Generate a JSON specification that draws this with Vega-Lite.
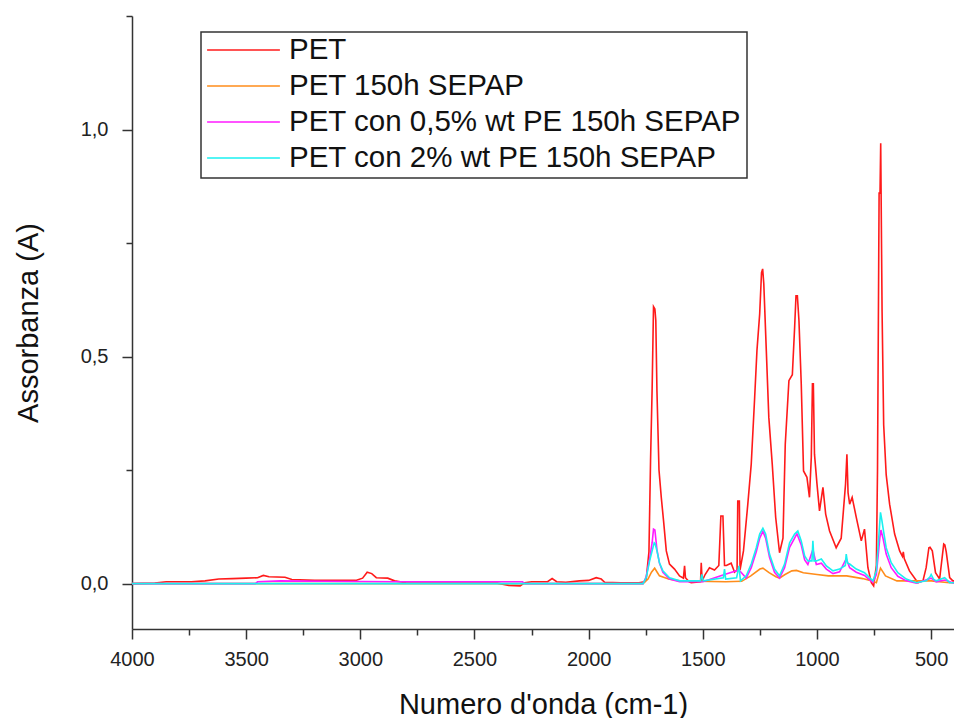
{
  "$schema": "https://vega.github.io/schema/vega-lite/v6.json",
  "width": 822,
  "height": 613,
  "autosize": "none",
  "padding": {"left": 132, "top": 16, "right": 0, "bottom": 89},
  "background": "white",
  "config": {
    "view": {"stroke": null},
    "font": "Liberation Sans",
    "axis": {
      "domainColor": "#333",
      "domainWidth": 1.5,
      "tickColor": "#333",
      "tickWidth": 1.5,
      "labelFont": "Liberation Sans",
      "labelFontSize": 20,
      "labelColor": "#222",
      "titleFont": "Liberation Sans",
      "titleFontSize": 29,
      "titleFontWeight": "normal",
      "titleColor": "#111",
      "grid": false,
      "labelFlush": false,
      "labelOverlap": false
    },
    "legend": {
      "orient": "none",
      "legendX": 69,
      "legendY": 16,
      "strokeColor": "#333",
      "strokeWidth": 1.5,
      "fillColor": "white",
      "padding": 5,
      "symbolType": "stroke",
      "symbolSize": 5300,
      "symbolStrokeWidth": 1.5,
      "clipHeight": 26,
      "labelFont": "Liberation Sans",
      "labelFontSize": 29.5,
      "labelColor": "#111",
      "labelLimit": 0,
      "labelOffset": 8,
      "rowPadding": 6
    }
  },
  "data": {
    "values": [
      {"s": "PET", "x": 4000, "y": 0.0},
      {"s": "PET", "x": 3900, "y": 0.001},
      {"s": "PET", "x": 3850, "y": 0.004},
      {"s": "PET", "x": 3740, "y": 0.004},
      {"s": "PET", "x": 3680, "y": 0.006},
      {"s": "PET", "x": 3620, "y": 0.01},
      {"s": "PET", "x": 3560, "y": 0.011},
      {"s": "PET", "x": 3500, "y": 0.012},
      {"s": "PET", "x": 3450, "y": 0.013},
      {"s": "PET", "x": 3425, "y": 0.018},
      {"s": "PET", "x": 3400, "y": 0.015},
      {"s": "PET", "x": 3330, "y": 0.014},
      {"s": "PET", "x": 3300, "y": 0.009},
      {"s": "PET", "x": 3200, "y": 0.007},
      {"s": "PET", "x": 3100, "y": 0.007},
      {"s": "PET", "x": 3020, "y": 0.007},
      {"s": "PET", "x": 2990, "y": 0.012},
      {"s": "PET", "x": 2970, "y": 0.025},
      {"s": "PET", "x": 2950, "y": 0.022},
      {"s": "PET", "x": 2930, "y": 0.013},
      {"s": "PET", "x": 2880, "y": 0.012},
      {"s": "PET", "x": 2850, "y": 0.006},
      {"s": "PET", "x": 2800, "y": 0.002},
      {"s": "PET", "x": 2600, "y": 0.001},
      {"s": "PET", "x": 2400, "y": 0.001},
      {"s": "PET", "x": 2350, "y": -0.004},
      {"s": "PET", "x": 2300, "y": -0.005},
      {"s": "PET", "x": 2280, "y": 0.002},
      {"s": "PET", "x": 2250, "y": 0.004},
      {"s": "PET", "x": 2180, "y": 0.004},
      {"s": "PET", "x": 2160, "y": 0.011},
      {"s": "PET", "x": 2140, "y": 0.004},
      {"s": "PET", "x": 2100, "y": 0.003},
      {"s": "PET", "x": 2040, "y": 0.006},
      {"s": "PET", "x": 2000, "y": 0.007},
      {"s": "PET", "x": 1967, "y": 0.013},
      {"s": "PET", "x": 1945, "y": 0.01},
      {"s": "PET", "x": 1930, "y": 0.003},
      {"s": "PET", "x": 1860, "y": 0.002},
      {"s": "PET", "x": 1780, "y": 0.002},
      {"s": "PET", "x": 1755, "y": 0.004},
      {"s": "PET", "x": 1748, "y": 0.01},
      {"s": "PET", "x": 1736, "y": 0.07},
      {"s": "PET", "x": 1729, "y": 0.27},
      {"s": "PET", "x": 1722, "y": 0.43},
      {"s": "PET", "x": 1716, "y": 0.61},
      {"s": "PET", "x": 1710, "y": 0.605},
      {"s": "PET", "x": 1706, "y": 0.58},
      {"s": "PET", "x": 1701, "y": 0.425},
      {"s": "PET", "x": 1692, "y": 0.25},
      {"s": "PET", "x": 1682, "y": 0.19},
      {"s": "PET", "x": 1672, "y": 0.138},
      {"s": "PET", "x": 1660, "y": 0.072},
      {"s": "PET", "x": 1646, "y": 0.043},
      {"s": "PET", "x": 1624, "y": 0.032},
      {"s": "PET", "x": 1602, "y": 0.017},
      {"s": "PET", "x": 1585, "y": 0.012},
      {"s": "PET", "x": 1580, "y": 0.039},
      {"s": "PET", "x": 1576, "y": 0.013},
      {"s": "PET", "x": 1560, "y": 0.004},
      {"s": "PET", "x": 1551, "y": 0.002},
      {"s": "PET", "x": 1510, "y": 0.004},
      {"s": "PET", "x": 1507, "y": 0.046},
      {"s": "PET", "x": 1503, "y": 0.006},
      {"s": "PET", "x": 1490, "y": 0.02},
      {"s": "PET", "x": 1471, "y": 0.035},
      {"s": "PET", "x": 1449, "y": 0.03},
      {"s": "PET", "x": 1430, "y": 0.04},
      {"s": "PET", "x": 1421, "y": 0.149},
      {"s": "PET", "x": 1412, "y": 0.149},
      {"s": "PET", "x": 1405, "y": 0.04},
      {"s": "PET", "x": 1397, "y": 0.04},
      {"s": "PET", "x": 1376, "y": 0.045},
      {"s": "PET", "x": 1361, "y": 0.025},
      {"s": "PET", "x": 1350, "y": 0.03},
      {"s": "PET", "x": 1347, "y": 0.182},
      {"s": "PET", "x": 1340, "y": 0.182},
      {"s": "PET", "x": 1337, "y": 0.03},
      {"s": "PET", "x": 1322, "y": 0.072},
      {"s": "PET", "x": 1303, "y": 0.175},
      {"s": "PET", "x": 1288, "y": 0.263},
      {"s": "PET", "x": 1273, "y": 0.41},
      {"s": "PET", "x": 1263, "y": 0.513},
      {"s": "PET", "x": 1251, "y": 0.594},
      {"s": "PET", "x": 1243, "y": 0.685},
      {"s": "PET", "x": 1238, "y": 0.693},
      {"s": "PET", "x": 1233, "y": 0.66},
      {"s": "PET", "x": 1222, "y": 0.513},
      {"s": "PET", "x": 1211, "y": 0.366},
      {"s": "PET", "x": 1196, "y": 0.263},
      {"s": "PET", "x": 1181, "y": 0.146},
      {"s": "PET", "x": 1164, "y": 0.068},
      {"s": "PET", "x": 1149, "y": 0.1},
      {"s": "PET", "x": 1139, "y": 0.307},
      {"s": "PET", "x": 1123, "y": 0.447},
      {"s": "PET", "x": 1108, "y": 0.46},
      {"s": "PET", "x": 1098, "y": 0.564},
      {"s": "PET", "x": 1092, "y": 0.634},
      {"s": "PET", "x": 1086, "y": 0.634},
      {"s": "PET", "x": 1079, "y": 0.579},
      {"s": "PET", "x": 1069, "y": 0.44},
      {"s": "PET", "x": 1059, "y": 0.248},
      {"s": "PET", "x": 1044, "y": 0.234},
      {"s": "PET", "x": 1033, "y": 0.19},
      {"s": "PET", "x": 1025, "y": 0.278},
      {"s": "PET", "x": 1020, "y": 0.44},
      {"s": "PET", "x": 1016, "y": 0.44},
      {"s": "PET", "x": 1011, "y": 0.285},
      {"s": "PET", "x": 1000, "y": 0.219},
      {"s": "PET", "x": 989, "y": 0.16},
      {"s": "PET", "x": 974, "y": 0.212},
      {"s": "PET", "x": 962, "y": 0.153},
      {"s": "PET", "x": 945, "y": 0.116},
      {"s": "PET", "x": 916, "y": 0.079},
      {"s": "PET", "x": 894, "y": 0.1},
      {"s": "PET", "x": 875, "y": 0.219},
      {"s": "PET", "x": 869, "y": 0.285},
      {"s": "PET", "x": 864, "y": 0.2},
      {"s": "PET", "x": 857, "y": 0.175},
      {"s": "PET", "x": 846, "y": 0.19},
      {"s": "PET", "x": 828, "y": 0.146},
      {"s": "PET", "x": 806, "y": 0.094},
      {"s": "PET", "x": 792, "y": 0.12},
      {"s": "PET", "x": 777, "y": 0.035},
      {"s": "PET", "x": 762, "y": 0.002},
      {"s": "PET", "x": 752, "y": -0.005},
      {"s": "PET", "x": 740, "y": 0.04},
      {"s": "PET", "x": 735, "y": 0.25},
      {"s": "PET", "x": 728, "y": 0.86},
      {"s": "PET", "x": 724, "y": 0.86},
      {"s": "PET", "x": 721, "y": 0.97},
      {"s": "PET", "x": 715, "y": 0.6},
      {"s": "PET", "x": 708, "y": 0.35},
      {"s": "PET", "x": 697, "y": 0.24},
      {"s": "PET", "x": 682, "y": 0.175},
      {"s": "PET", "x": 660, "y": 0.109},
      {"s": "PET", "x": 638, "y": 0.072},
      {"s": "PET", "x": 626, "y": 0.06},
      {"s": "PET", "x": 622, "y": 0.07},
      {"s": "PET", "x": 618, "y": 0.055},
      {"s": "PET", "x": 595, "y": 0.028},
      {"s": "PET", "x": 558, "y": 0.002},
      {"s": "PET", "x": 536, "y": 0.006},
      {"s": "PET", "x": 522, "y": 0.035},
      {"s": "PET", "x": 510, "y": 0.079},
      {"s": "PET", "x": 505, "y": 0.08},
      {"s": "PET", "x": 495, "y": 0.072},
      {"s": "PET", "x": 481, "y": 0.024},
      {"s": "PET", "x": 463, "y": 0.01},
      {"s": "PET", "x": 445, "y": 0.087},
      {"s": "PET", "x": 440, "y": 0.085},
      {"s": "PET", "x": 434, "y": 0.07},
      {"s": "PET", "x": 419, "y": 0.013},
      {"s": "PET", "x": 405, "y": 0.006},
      {"s": "PET", "x": 400, "y": 0.006},

      {"s": "PET 150h SEPAP", "x": 4000, "y": 0.0},
      {"s": "PET 150h SEPAP", "x": 1762, "y": 0.0},
      {"s": "PET 150h SEPAP", "x": 1740, "y": 0.01},
      {"s": "PET 150h SEPAP", "x": 1725, "y": 0.025},
      {"s": "PET 150h SEPAP", "x": 1711, "y": 0.034},
      {"s": "PET 150h SEPAP", "x": 1700, "y": 0.025},
      {"s": "PET 150h SEPAP", "x": 1690, "y": 0.017},
      {"s": "PET 150h SEPAP", "x": 1650, "y": 0.01},
      {"s": "PET 150h SEPAP", "x": 1600, "y": 0.006},
      {"s": "PET 150h SEPAP", "x": 1400, "y": 0.004},
      {"s": "PET 150h SEPAP", "x": 1330, "y": 0.005},
      {"s": "PET 150h SEPAP", "x": 1290, "y": 0.017},
      {"s": "PET 150h SEPAP", "x": 1250, "y": 0.032},
      {"s": "PET 150h SEPAP", "x": 1237, "y": 0.034},
      {"s": "PET 150h SEPAP", "x": 1210, "y": 0.024},
      {"s": "PET 150h SEPAP", "x": 1180, "y": 0.015},
      {"s": "PET 150h SEPAP", "x": 1164, "y": 0.012},
      {"s": "PET 150h SEPAP", "x": 1140, "y": 0.02},
      {"s": "PET 150h SEPAP", "x": 1110, "y": 0.028},
      {"s": "PET 150h SEPAP", "x": 1090, "y": 0.029},
      {"s": "PET 150h SEPAP", "x": 1060, "y": 0.024},
      {"s": "PET 150h SEPAP", "x": 1000, "y": 0.02},
      {"s": "PET 150h SEPAP", "x": 950, "y": 0.017},
      {"s": "PET 150h SEPAP", "x": 870, "y": 0.017},
      {"s": "PET 150h SEPAP", "x": 800, "y": 0.011},
      {"s": "PET 150h SEPAP", "x": 760, "y": 0.006},
      {"s": "PET 150h SEPAP", "x": 740, "y": 0.002},
      {"s": "PET 150h SEPAP", "x": 730, "y": 0.02},
      {"s": "PET 150h SEPAP", "x": 722, "y": 0.034},
      {"s": "PET 150h SEPAP", "x": 700, "y": 0.017},
      {"s": "PET 150h SEPAP", "x": 650, "y": 0.006},
      {"s": "PET 150h SEPAP", "x": 500, "y": 0.006},
      {"s": "PET 150h SEPAP", "x": 420, "y": 0.002},
      {"s": "PET 150h SEPAP", "x": 400, "y": 0.002},

      {"s": "PET con 0,5% wt PE 150h SEPAP", "x": 4000, "y": 0.0},
      {"s": "PET con 0,5% wt PE 150h SEPAP", "x": 3460, "y": 0.0},
      {"s": "PET con 0,5% wt PE 150h SEPAP", "x": 3450, "y": 0.004},
      {"s": "PET con 0,5% wt PE 150h SEPAP", "x": 3350, "y": 0.006},
      {"s": "PET con 0,5% wt PE 150h SEPAP", "x": 3160, "y": 0.005},
      {"s": "PET con 0,5% wt PE 150h SEPAP", "x": 2840, "y": 0.004},
      {"s": "PET con 0,5% wt PE 150h SEPAP", "x": 2290, "y": 0.004},
      {"s": "PET con 0,5% wt PE 150h SEPAP", "x": 2280, "y": 0.0},
      {"s": "PET con 0,5% wt PE 150h SEPAP", "x": 1762, "y": 0.0},
      {"s": "PET con 0,5% wt PE 150h SEPAP", "x": 1748, "y": 0.015},
      {"s": "PET con 0,5% wt PE 150h SEPAP", "x": 1733, "y": 0.055},
      {"s": "PET con 0,5% wt PE 150h SEPAP", "x": 1722, "y": 0.09},
      {"s": "PET con 0,5% wt PE 150h SEPAP", "x": 1716, "y": 0.12},
      {"s": "PET con 0,5% wt PE 150h SEPAP", "x": 1710, "y": 0.118},
      {"s": "PET con 0,5% wt PE 150h SEPAP", "x": 1701, "y": 0.075},
      {"s": "PET con 0,5% wt PE 150h SEPAP", "x": 1690, "y": 0.045},
      {"s": "PET con 0,5% wt PE 150h SEPAP", "x": 1675, "y": 0.025},
      {"s": "PET con 0,5% wt PE 150h SEPAP", "x": 1646, "y": 0.01},
      {"s": "PET con 0,5% wt PE 150h SEPAP", "x": 1602, "y": 0.004},
      {"s": "PET con 0,5% wt PE 150h SEPAP", "x": 1500, "y": 0.004},
      {"s": "PET con 0,5% wt PE 150h SEPAP", "x": 1405, "y": 0.02},
      {"s": "PET con 0,5% wt PE 150h SEPAP", "x": 1342, "y": 0.03},
      {"s": "PET con 0,5% wt PE 150h SEPAP", "x": 1310, "y": 0.012},
      {"s": "PET con 0,5% wt PE 150h SEPAP", "x": 1288, "y": 0.035},
      {"s": "PET con 0,5% wt PE 150h SEPAP", "x": 1266, "y": 0.07},
      {"s": "PET con 0,5% wt PE 150h SEPAP", "x": 1251, "y": 0.1},
      {"s": "PET con 0,5% wt PE 150h SEPAP", "x": 1237, "y": 0.115},
      {"s": "PET con 0,5% wt PE 150h SEPAP", "x": 1225, "y": 0.1},
      {"s": "PET con 0,5% wt PE 150h SEPAP", "x": 1208, "y": 0.058},
      {"s": "PET con 0,5% wt PE 150h SEPAP", "x": 1186, "y": 0.025},
      {"s": "PET con 0,5% wt PE 150h SEPAP", "x": 1164, "y": 0.012},
      {"s": "PET con 0,5% wt PE 150h SEPAP", "x": 1142, "y": 0.035},
      {"s": "PET con 0,5% wt PE 150h SEPAP", "x": 1120, "y": 0.08},
      {"s": "PET con 0,5% wt PE 150h SEPAP", "x": 1098, "y": 0.1},
      {"s": "PET con 0,5% wt PE 150h SEPAP", "x": 1088, "y": 0.11},
      {"s": "PET con 0,5% wt PE 150h SEPAP", "x": 1069, "y": 0.085},
      {"s": "PET con 0,5% wt PE 150h SEPAP", "x": 1054, "y": 0.052},
      {"s": "PET con 0,5% wt PE 150h SEPAP", "x": 1040, "y": 0.042},
      {"s": "PET con 0,5% wt PE 150h SEPAP", "x": 1018, "y": 0.075},
      {"s": "PET con 0,5% wt PE 150h SEPAP", "x": 1003, "y": 0.042},
      {"s": "PET con 0,5% wt PE 150h SEPAP", "x": 981, "y": 0.045},
      {"s": "PET con 0,5% wt PE 150h SEPAP", "x": 959, "y": 0.032},
      {"s": "PET con 0,5% wt PE 150h SEPAP", "x": 930, "y": 0.022},
      {"s": "PET con 0,5% wt PE 150h SEPAP", "x": 901, "y": 0.026},
      {"s": "PET con 0,5% wt PE 150h SEPAP", "x": 872, "y": 0.055},
      {"s": "PET con 0,5% wt PE 150h SEPAP", "x": 857, "y": 0.035},
      {"s": "PET con 0,5% wt PE 150h SEPAP", "x": 828, "y": 0.025},
      {"s": "PET con 0,5% wt PE 150h SEPAP", "x": 792, "y": 0.018},
      {"s": "PET con 0,5% wt PE 150h SEPAP", "x": 770, "y": 0.008},
      {"s": "PET con 0,5% wt PE 150h SEPAP", "x": 755, "y": 0.003},
      {"s": "PET con 0,5% wt PE 150h SEPAP", "x": 740, "y": 0.02},
      {"s": "PET con 0,5% wt PE 150h SEPAP", "x": 725, "y": 0.1},
      {"s": "PET con 0,5% wt PE 150h SEPAP", "x": 720, "y": 0.118},
      {"s": "PET con 0,5% wt PE 150h SEPAP", "x": 711, "y": 0.1},
      {"s": "PET con 0,5% wt PE 150h SEPAP", "x": 697, "y": 0.065},
      {"s": "PET con 0,5% wt PE 150h SEPAP", "x": 675, "y": 0.035},
      {"s": "PET con 0,5% wt PE 150h SEPAP", "x": 646, "y": 0.016},
      {"s": "PET con 0,5% wt PE 150h SEPAP", "x": 609, "y": 0.006},
      {"s": "PET con 0,5% wt PE 150h SEPAP", "x": 565, "y": 0.001},
      {"s": "PET con 0,5% wt PE 150h SEPAP", "x": 500, "y": 0.012},
      {"s": "PET con 0,5% wt PE 150h SEPAP", "x": 478, "y": 0.004},
      {"s": "PET con 0,5% wt PE 150h SEPAP", "x": 441, "y": 0.008},
      {"s": "PET con 0,5% wt PE 150h SEPAP", "x": 400, "y": 0.001},

      {"s": "PET con 2% wt PE 150h SEPAP", "x": 4000, "y": 0.0},
      {"s": "PET con 2% wt PE 150h SEPAP", "x": 1800, "y": 0.0},
      {"s": "PET con 2% wt PE 150h SEPAP", "x": 1762, "y": 0.0},
      {"s": "PET con 2% wt PE 150h SEPAP", "x": 1748, "y": 0.013},
      {"s": "PET con 2% wt PE 150h SEPAP", "x": 1733, "y": 0.05},
      {"s": "PET con 2% wt PE 150h SEPAP", "x": 1722, "y": 0.072},
      {"s": "PET con 2% wt PE 150h SEPAP", "x": 1713, "y": 0.09},
      {"s": "PET con 2% wt PE 150h SEPAP", "x": 1709, "y": 0.088},
      {"s": "PET con 2% wt PE 150h SEPAP", "x": 1701, "y": 0.072},
      {"s": "PET con 2% wt PE 150h SEPAP", "x": 1690, "y": 0.046},
      {"s": "PET con 2% wt PE 150h SEPAP", "x": 1675, "y": 0.028},
      {"s": "PET con 2% wt PE 150h SEPAP", "x": 1646, "y": 0.013},
      {"s": "PET con 2% wt PE 150h SEPAP", "x": 1602, "y": 0.006},
      {"s": "PET con 2% wt PE 150h SEPAP", "x": 1510, "y": 0.006},
      {"s": "PET con 2% wt PE 150h SEPAP", "x": 1505, "y": 0.02},
      {"s": "PET con 2% wt PE 150h SEPAP", "x": 1498, "y": 0.006},
      {"s": "PET con 2% wt PE 150h SEPAP", "x": 1410, "y": 0.013},
      {"s": "PET con 2% wt PE 150h SEPAP", "x": 1405, "y": 0.032},
      {"s": "PET con 2% wt PE 150h SEPAP", "x": 1400, "y": 0.01},
      {"s": "PET con 2% wt PE 150h SEPAP", "x": 1352, "y": 0.013},
      {"s": "PET con 2% wt PE 150h SEPAP", "x": 1342, "y": 0.039},
      {"s": "PET con 2% wt PE 150h SEPAP", "x": 1335, "y": 0.006},
      {"s": "PET con 2% wt PE 150h SEPAP", "x": 1310, "y": 0.017},
      {"s": "PET con 2% wt PE 150h SEPAP", "x": 1288, "y": 0.043},
      {"s": "PET con 2% wt PE 150h SEPAP", "x": 1266, "y": 0.079},
      {"s": "PET con 2% wt PE 150h SEPAP", "x": 1251, "y": 0.109},
      {"s": "PET con 2% wt PE 150h SEPAP", "x": 1237, "y": 0.122},
      {"s": "PET con 2% wt PE 150h SEPAP", "x": 1225, "y": 0.109},
      {"s": "PET con 2% wt PE 150h SEPAP", "x": 1208, "y": 0.065},
      {"s": "PET con 2% wt PE 150h SEPAP", "x": 1186, "y": 0.032},
      {"s": "PET con 2% wt PE 150h SEPAP", "x": 1164, "y": 0.017},
      {"s": "PET con 2% wt PE 150h SEPAP", "x": 1142, "y": 0.043},
      {"s": "PET con 2% wt PE 150h SEPAP", "x": 1120, "y": 0.09},
      {"s": "PET con 2% wt PE 150h SEPAP", "x": 1098, "y": 0.109},
      {"s": "PET con 2% wt PE 150h SEPAP", "x": 1084, "y": 0.116},
      {"s": "PET con 2% wt PE 150h SEPAP", "x": 1069, "y": 0.094},
      {"s": "PET con 2% wt PE 150h SEPAP", "x": 1054, "y": 0.061},
      {"s": "PET con 2% wt PE 150h SEPAP", "x": 1040, "y": 0.05},
      {"s": "PET con 2% wt PE 150h SEPAP", "x": 1022, "y": 0.05},
      {"s": "PET con 2% wt PE 150h SEPAP", "x": 1018, "y": 0.094},
      {"s": "PET con 2% wt PE 150h SEPAP", "x": 1013, "y": 0.05},
      {"s": "PET con 2% wt PE 150h SEPAP", "x": 1003, "y": 0.05},
      {"s": "PET con 2% wt PE 150h SEPAP", "x": 981, "y": 0.054},
      {"s": "PET con 2% wt PE 150h SEPAP", "x": 959, "y": 0.039},
      {"s": "PET con 2% wt PE 150h SEPAP", "x": 930, "y": 0.028},
      {"s": "PET con 2% wt PE 150h SEPAP", "x": 901, "y": 0.032},
      {"s": "PET con 2% wt PE 150h SEPAP", "x": 876, "y": 0.04},
      {"s": "PET con 2% wt PE 150h SEPAP", "x": 872, "y": 0.065},
      {"s": "PET con 2% wt PE 150h SEPAP", "x": 866, "y": 0.045},
      {"s": "PET con 2% wt PE 150h SEPAP", "x": 857, "y": 0.043},
      {"s": "PET con 2% wt PE 150h SEPAP", "x": 828, "y": 0.032},
      {"s": "PET con 2% wt PE 150h SEPAP", "x": 792, "y": 0.024},
      {"s": "PET con 2% wt PE 150h SEPAP", "x": 770, "y": 0.013},
      {"s": "PET con 2% wt PE 150h SEPAP", "x": 755, "y": 0.006},
      {"s": "PET con 2% wt PE 150h SEPAP", "x": 740, "y": 0.028},
      {"s": "PET con 2% wt PE 150h SEPAP", "x": 727, "y": 0.12},
      {"s": "PET con 2% wt PE 150h SEPAP", "x": 722, "y": 0.157},
      {"s": "PET con 2% wt PE 150h SEPAP", "x": 716, "y": 0.14},
      {"s": "PET con 2% wt PE 150h SEPAP", "x": 711, "y": 0.123},
      {"s": "PET con 2% wt PE 150h SEPAP", "x": 697, "y": 0.079},
      {"s": "PET con 2% wt PE 150h SEPAP", "x": 675, "y": 0.046},
      {"s": "PET con 2% wt PE 150h SEPAP", "x": 646, "y": 0.024},
      {"s": "PET con 2% wt PE 150h SEPAP", "x": 609, "y": 0.01},
      {"s": "PET con 2% wt PE 150h SEPAP", "x": 565, "y": 0.002},
      {"s": "PET con 2% wt PE 150h SEPAP", "x": 522, "y": 0.006},
      {"s": "PET con 2% wt PE 150h SEPAP", "x": 505, "y": 0.015},
      {"s": "PET con 2% wt PE 150h SEPAP", "x": 500, "y": 0.02},
      {"s": "PET con 2% wt PE 150h SEPAP", "x": 490, "y": 0.01},
      {"s": "PET con 2% wt PE 150h SEPAP", "x": 478, "y": 0.006},
      {"s": "PET con 2% wt PE 150h SEPAP", "x": 441, "y": 0.013},
      {"s": "PET con 2% wt PE 150h SEPAP", "x": 419, "y": 0.002},
      {"s": "PET con 2% wt PE 150h SEPAP", "x": 400, "y": 0.002}
    ]
  },
  "mark": {"type": "line", "strokeWidth": 1.6, "clip": true},
  "encoding": {
    "x": {
      "field": "x",
      "type": "quantitative",
      "sort": null,
      "scale": {"domain": [4000, 400], "nice": false, "zero": false},
      "axis": {
        "title": "Numero d'onda (cm-1)",
        "values": [4000, 3750, 3500, 3250, 3000, 2750, 2500, 2250, 2000, 1750, 1500, 1250, 1000, 750, 500],
        "labelExpr": "datum.value % 500 == 0 ? format(datum.value, 'd') : ''",
        "tickSize": {"condition": {"test": "datum.value % 500 != 0", "value": 6}, "value": 10},
        "labelPadding": 10,
        "titlePadding": 21
      }
    },
    "y": {
      "field": "y",
      "type": "quantitative",
      "scale": {"domain": [-0.1, 1.25], "nice": false, "zero": false},
      "axis": {
        "title": "Assorbanza (A)",
        "values": [0, 0.25, 0.5, 0.75, 1, 1.25],
        "labelExpr": "datum.value % 0.5 == 0 ? replace(format(datum.value, '.1f'), '.', ',') : ''",
        "tickSize": {"condition": {"test": "datum.value % 0.5 != 0", "value": 6}, "value": 10},
        "labelPadding": 14,
        "titlePadding": 37
      }
    },
    "color": {
      "field": "s",
      "type": "nominal",
      "sort": null,
      "scale": {
        "domain": ["PET", "PET 150h SEPAP", "PET con 0,5% wt PE 150h SEPAP", "PET con 2% wt PE 150h SEPAP"],
        "range": ["#ff1a1a", "#ff8c1a", "#ff1aff", "#1af0f0"]
      },
      "legend": {"title": null}
    }
  }
}
